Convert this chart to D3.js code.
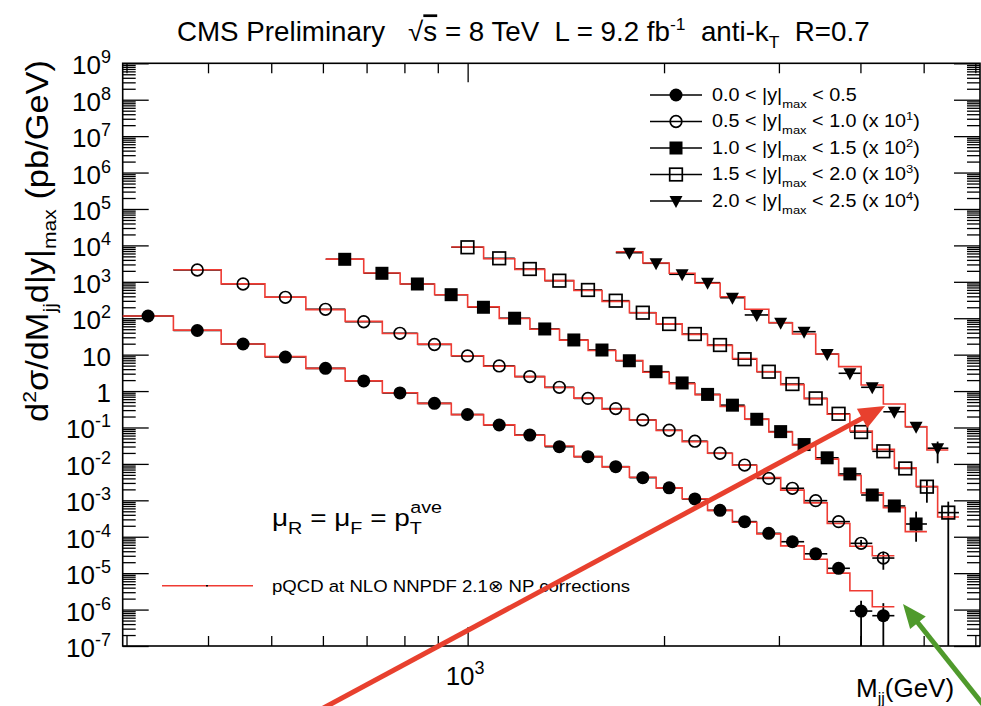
<html>
<head>
<meta charset="utf-8">
<style>
  body { margin: 0; background: #fff; }
  svg text { font-family: "Liberation Sans", Arial, Helvetica, sans-serif; fill: #000; }
  .pre { white-space: pre; }
</style>
</head>
<body>
<svg id="vis" width="981" height="706"></svg>
<script src="https://d3js.org/d3.v7.min.js"></script>
<script>
// two interleaved sets of dijet mass bin edges (GeV)
const edgesA = [296, 354, 419, 489, 565, 649, 740, 838, 944, 1058, 1181, 1313, 1455, 1607, 1770, 1945, 2132, 2332, 2546, 2775, 3019, 3279, 3558, 3854, 4171, 4509, 4869, 5253, 5663]
const edgesB = [606, 693, 788, 890, 1000, 1118, 1246, 1383, 1530, 1687, 1856, 2037, 2231, 2438, 2659, 2895, 3147, 3416, 3704, 4010, 4337, 4686, 5058, 5455, 5877]

// data (pb/GeV, already multiplied by the legend factor)
const data0 = [115, 46, 19.6, 8.6, 4.2, 1.9, 0.89, 0.46, 0.227, 0.117, 0.062, 0.0297, 0.0158, 0.0084, 0.0042, 0.0022, 0.00109, 5.3e-4, 2.6e-4, 1.24e-4, 7.3e-5, 3.4e-5, 1.36e-5, 9.1e-7, 6.8e-7]
const data1 = [2110, 870, 376, 176, 80, 38.6, 19.0, 9.2, 4.9, 2.5, 1.27, 0.63, 0.33, 0.161, 0.084, 0.042, 0.0196, 0.0093, 0.0040, 0.00214, 9.8e-4, 2.6e-4, 6.6e-5, 2.6e-5]
const data2 = [4150, 1714, 871, 443, 200, 100, 50.7, 25.3, 13.4, 6.8, 3.4, 1.67, 0.81, 0.41, 0.168, 0.077, 0.034, 0.0147, 0.0053, 0.0014, 7.0e-4, 2.24e-4]
const data3 = [8870, 4420, 2250, 1075, 597, 303, 142, 69.5, 36.9, 18.4, 7.5, 3.4, 1.56, 0.63, 0.238, 0.075, 0.0222, 0.0075, 0.00237, 4.6e-4]
const data4 = [6300, 3230, 1610, 946, 366, 123, 75.5, 42.7, 10.4, 3.08, 1.27, 0.27, 0.105, 0.027]

// NLO x NP theory, same bins
const theory0 = [115, 47, 19.6, 8.8, 4.2, 1.9, 0.9, 0.46, 0.225, 0.118, 0.061, 0.031, 0.0158, 0.0083, 0.0043, 0.0022, 0.0011, 5.3e-4, 2.5e-4, 1.2e-4, 5.6e-5, 2.4e-5, 1.0e-5, 3.3e-6, 1.2e-6]
const theory1 = [2150, 880, 380, 172, 82, 38, 19.5, 9.3, 4.8, 2.5, 1.25, 0.64, 0.32, 0.16, 0.083, 0.041, 0.0196, 0.0092, 0.0042, 0.0019, 8.5e-4, 2.3e-4, 5.5e-5, 3.0e-5]
const theory2 = [4200, 1750, 870, 440, 205, 98, 50, 25, 13, 6.9, 3.3, 1.6, 0.8, 0.38, 0.17, 0.075, 0.033, 0.0135, 0.0048, 0.0016, 6.3e-4, 1.38e-4]
const theory3 = [9000, 4300, 2200, 1080, 580, 290, 142, 70, 36, 18, 7.8, 3.4, 1.5, 0.62, 0.23, 0.08, 0.025, 0.0078, 0.0024, 3.5e-4]
const theory4 = [6710, 3290, 1713, 912, 390, 176, 75.5, 36.9, 10.4, 4.68, 1.47, 0.44, 0.105, 0.024]

// which edge set and first bin each series uses
const binSet = ['A', 'A', 'B', 'A', 'B']
const firstBin = [0, 1, 0, 8, 9]
const markerType = ['fcircle', 'ocircle', 'fsquare', 'osquare', 'ftri']
const legendRange = ['0.0', '0.5', '1.0', '1.5', '2.0']
const legendRangeHi = ['0.5', '1.0', '1.5', '2.0', '2.5']
const legendExp = [null, 1, 2, 3, 4]

// visible vertical error bars [series, bin index, low, high]
const errBars = [
  [0, 23, 1e-9, 1.75e-6], [0, 24, 1e-9, 1.5e-6],
  [1, 22, 5.2e-5, 8.2e-5], [1, 23, 1.24e-5, 3.9e-5],
  [2, 20, 5.4e-4, 9.0e-4], [2, 21, 7.3e-5, 4.9e-4],
  [3, 18, 8.6e-4, 3.6e-3], [3, 19, 1e-9, 9.2e-4],
  [4, 13, 0.0104, 0.041]
]

const yTickExp = [-7, -6, -5, -4, -3, -2, -1, 0, 1, 2, 3, 4, 5, 6, 7, 8, 9]
const xMajorTicks = [1000]
const xMinorTicks = [300, 400, 500, 600, 700, 800, 900, 2000, 3000, 4000, 5000, 6000]

const datas = [data0, data1, data2, data3, data4]
const theories = [theory0, theory1, theory2, theory3, theory4]

const L = 122.7, R = 980, T = 63.3, B = 646
const svg = d3.select('#vis')
const x = d3.scaleLog().domain([296, 6100]).range([L, R])
const y = d3.scaleLog().domain([1e-7, 1e9]).range([B, T]).clamp(true)
const red = '#ef3b33'

// ---- axes / ticks
const yMajor = yTickExp.map(e => +('1e' + e))
const yMinor = []
yTickExp.slice(0, -1).forEach(e => { for (let k = 2; k <= 9; k++) yMinor.push(+(k + 'e' + e)) })

function tickAxis(axis, tx, ty) {
  const g = svg.append('g').attr('transform', `translate(${tx},${ty})`).call(axis)
  g.select('.domain').remove()
  g.selectAll('line').attr('stroke', '#000').attr('stroke-width', 1.3)
  g.selectAll('text').remove()
}
tickAxis(d3.axisRight(y).tickValues(yMajor).tickSize(26).tickFormat(''), L, 0)
tickAxis(d3.axisRight(y).tickValues(yMinor).tickSize(13).tickFormat(''), L, 0)
tickAxis(d3.axisLeft(y).tickValues(yMajor).tickSize(26).tickFormat(''), R, 0)
tickAxis(d3.axisLeft(y).tickValues(yMinor).tickSize(13).tickFormat(''), R, 0)
tickAxis(d3.axisTop(x).tickValues(xMajorTicks).tickSize(19).tickFormat(''), 0, B)
tickAxis(d3.axisTop(x).tickValues(xMinorTicks).tickSize(10).tickFormat(''), 0, B)
tickAxis(d3.axisBottom(x).tickValues(xMajorTicks).tickSize(19).tickFormat(''), 0, T)
tickAxis(d3.axisBottom(x).tickValues(xMinorTicks).tickSize(10).tickFormat(''), 0, T)

svg.append('rect').attr('x', L).attr('y', T).attr('width', R - L).attr('height', B - T)
  .attr('fill', 'none').attr('stroke', '#000').attr('stroke-width', 1.6)

// y tick labels
yTickExp.forEach(e => {
  const t = svg.append('text').attr('x', 111).attr('y', y(+('1e' + e)) + 11)
    .attr('text-anchor', 'end').attr('font-size', 26)
  if (e === 0) t.text('1')
  else if (e === 1) t.text('10')
  else {
    t.append('tspan').text('10')
    t.append('tspan').attr('font-size', 18).attr('dy', -11).text(e)
  }
})
// x tick label
const xl = svg.append('text').attr('x', x(1000) - 22).attr('y', 685).attr('font-size', 26)
xl.append('tspan').text('10')
xl.append('tspan').attr('font-size', 18).attr('dy', -11).text('3')

// ---- series
function edgesOf(s) { return binSet[s] === 'A' ? edgesA : edgesB }
function bins(s) {
  const ed = edgesOf(s), f = firstBin[s]
  return datas[s].map((v, i) => ({ lo: ed[f + i], hi: ed[f + i + 1], v: v, t: theories[s][i] }))
}

const gErr = svg.append('g'), gTh = svg.append('g'), gMk = svg.append('g')

function marker(g, type, cx, cy) {
  if (type === 'fcircle') g.append('circle').attr('cx', cx).attr('cy', cy).attr('r', 6.5).attr('fill', '#000')
  if (type === 'ocircle') g.append('circle').attr('cx', cx).attr('cy', cy).attr('r', 5.8).attr('fill', 'none').attr('stroke', '#000').attr('stroke-width', 1.7)
  if (type === 'fsquare') g.append('rect').attr('x', cx - 6.5).attr('y', cy - 6.5).attr('width', 13).attr('height', 13).attr('fill', '#000')
  if (type === 'osquare') g.append('rect').attr('x', cx - 6.3).attr('y', cy - 6.3).attr('width', 12.6).attr('height', 12.6).attr('fill', 'none').attr('stroke', '#000').attr('stroke-width', 1.7)
  if (type === 'ftri') g.append('path').attr('d', `M${cx - 6.5},${cy - 5}L${cx + 6.5},${cy - 5}L${cx},${cy + 7}Z`).attr('fill', '#000')
}

datas.forEach((d, s) => {
  const b = bins(s)
  // horizontal (bin width) error bars
  gErr.selectAll(null).data(b).join('line')
    .attr('x1', p => x(p.lo)).attr('x2', p => x(p.hi))
    .attr('y1', p => y(p.v)).attr('y2', p => y(p.v))
    .attr('stroke', '#000').attr('stroke-width', 1.6)
  // theory step
  let path = ''
  b.forEach((p, i) => {
    path += (i === 0 ? `M${x(p.lo)},${y(p.t)}` : `V${y(p.t)}`) + `H${x(p.hi)}`
  })
  gTh.append('path').attr('d', path).attr('fill', 'none').attr('stroke', red).attr('stroke-width', 1.6)
  b.forEach(p => marker(gMk, markerType[s], x(Math.sqrt(p.lo * p.hi)), y(p.v)))
})

errBars.forEach(([s, i, lo, hi]) => {
  const p = bins(s)[i]
  const cx = x(Math.sqrt(p.lo * p.hi))
  gErr.append('line').attr('x1', cx).attr('x2', cx).attr('y1', y(lo)).attr('y2', y(hi))
    .attr('stroke', '#000').attr('stroke-width', 1.8)
})

// ---- legend
const rowY = d3.scaleLinear().domain([0, 4]).range([95, 201])
function squeeze(t, x0, target) {
  const w = t.node().getBBox().width
  t.attr('transform', `translate(${x0},0) scale(${target / w},1) translate(${-x0},0)`)
}
legendRange.forEach((r, s) => {
  const cy = rowY(s)
  svg.append('line').attr('x1', 650).attr('x2', 702).attr('y1', cy).attr('y2', cy).attr('stroke', '#000').attr('stroke-width', 1.6)
  marker(svg, markerType[s], 676, cy)
  const t = svg.append('text').attr('x', 712).attr('y', cy + 6).attr('font-size', 17.5)
  t.append('tspan').text(r + ' < |y|')
  t.append('tspan').attr('font-size', 11.5).attr('dy', 7).text('max')
  t.append('tspan').attr('dy', -7).text(' < ' + legendRangeHi[s])
  if (legendExp[s] !== null) {
    t.append('tspan').text(' (x 10')
    t.append('tspan').attr('font-size', 11.5).attr('dy', -7).text(legendExp[s])
    t.append('tspan').attr('dy', 7).text(')')
  }
  squeeze(t, 712, legendExp[s] === null ? 145 : 208)
})

// theory legend
svg.append('line').attr('x1', 162).attr('x2', 253).attr('y1', 585.7).attr('y2', 585.7).attr('stroke', red).attr('stroke-width', 1.5)
svg.append('line').attr('x1', 206).attr('x2', 208).attr('y1', 585.7).attr('y2', 585.7).attr('stroke', '#000').attr('stroke-width', 1.5)
const tl = svg.append('text').attr('x', 272).attr('y', 592).attr('font-size', 17).text('pQCD at NLO NNPDF 2.1\u2297 NP corrections')
squeeze(tl, 272, 358)

// scale text
const mu = svg.append('text').attr('x', 272).attr('y', 526).attr('font-size', 24)
mu.append('tspan').text('\u03bc')
mu.append('tspan').attr('font-size', 17).attr('dy', 8).text('R')
mu.append('tspan').attr('dy', -8).text(' = \u03bc')
mu.append('tspan').attr('font-size', 17).attr('dy', 8).text('F')
mu.append('tspan').attr('dy', -8).text(' = p')
mu.append('tspan').attr('font-size', 17).attr('dy', 8).text('T')
mu.append('tspan').attr('font-size', 17).attr('dx', -10).attr('dy', -21).text('ave')
squeeze(mu, 272, 168)

// ---- titles
const title = svg.append('text').attr('class', 'pre').attr('x', 177).attr('y', 41).attr('font-size', 27)
title.append('tspan').text('CMS Preliminary   \u221a')
title.append('tspan').attr('text-decoration', 'overline').text('s')
title.append('tspan').text(' = 8 TeV  L = 9.2 fb')
title.append('tspan').attr('font-size', 17).attr('dy', -11).text('-1')
title.append('tspan').attr('dy', 11).text('  anti-k')
title.append('tspan').attr('font-size', 17).attr('dy', 7).text('T')
title.append('tspan').attr('dy', -7).text('  R=0.7')
squeeze(title, 177, 693)

const yg = svg.append('g').attr('transform', 'translate(48,241) rotate(-90)')
const yt = yg.append('text').attr('x', 0).attr('y', 0).attr('text-anchor', 'middle').attr('font-size', 31)
yt.append('tspan').text('d')
yt.append('tspan').attr('font-size', 19).attr('dy', -12).text('2')
yt.append('tspan').attr('dy', 12).text('\u03c3/dM')
yt.append('tspan').attr('font-size', 19).attr('dy', 8).text('jj')
yt.append('tspan').attr('dy', -8).text('d|y|')
yt.append('tspan').attr('font-size', 19).attr('dy', 8).text('max')
yt.append('tspan').attr('dy', -8).text(' (pb/GeV)')
squeeze(yt, 0, 362)

const xt = svg.append('text').attr('x', 856).attr('y', 697).attr('font-size', 26)
xt.append('tspan').text('M')
xt.append('tspan').attr('font-size', 16).attr('dy', 7).text('jj')
xt.append('tspan').attr('dy', -7).text('(GeV)')

// ---- annotation arrows
function arrow(x1, y1, x2, y2, color, w, hl, hw) {
  const dx = x2 - x1, dy = y2 - y1, len = Math.hypot(dx, dy)
  const ux = dx / len, uy = dy / len
  const bx = x2 - ux * hl, by = y2 - uy * hl
  svg.append('line').attr('x1', x1).attr('y1', y1).attr('x2', bx + ux * 2).attr('y2', by + uy * 2)
    .attr('stroke', color).attr('stroke-width', w)
  svg.append('path').attr('fill', color)
    .attr('d', `M${x2},${y2}L${bx - uy * hw},${by + ux * hw}L${bx + uy * hw},${by - ux * hw}Z`)
}
arrow(316, 712, 885, 406, '#e8402e', 5, 26, 11)
arrow(989, 712, 903, 604, '#4f9a2c', 5, 24, 10)
</script>
</body>
</html>
